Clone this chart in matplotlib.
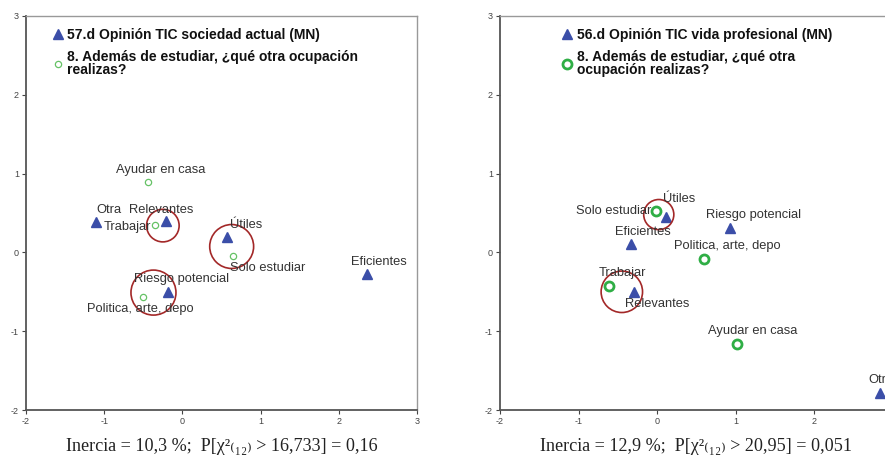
import matplotlib
matplotlib.use("Agg")
import matplotlib.pyplot as plt
from matplotlib.lines import Line2D

plt.rcParams['font.family'] = ['Liberation Sans', 'DejaVu Sans']
plt.rcParams['axes.unicode_minus'] = False

# ---- panel izquierdo: 57.d Opinión TIC sociedad actual
left_tri_names = ['Otra', 'Relevantes', 'Útiles', 'Eficientes', 'Riesgo potencial']
left_tri_x = [-1.10, -0.21, 0.57, 2.36, -0.18]
left_tri_y = [0.39, 0.40, 0.19, -0.28, -0.50]
left_circ_names = ['Ayudar en casa', 'Trabajar', 'Solo estudiar', 'Politica, arte, depo']
left_circ_x = [-0.44, -0.35, 0.65, -0.51]
left_circ_y = [0.89, 0.35, -0.05, -0.57]
left_mark_x = [-0.25, 0.63, -0.37]
left_mark_y = [0.34, 0.075, -0.51]
left_legend = ['57.d Opinión TIC sociedad actual (MN)',
               '8. Además de estudiar, ¿qué otra ocupación\nrealizas?']
left_caption = 'Inercia = 10,3 %;  P[χ²₍₁₂₎ > 16,733] = 0,16'

# ---- panel derecho: 56.d Opinión TIC vida profesional
right_tri_names = ['Útiles', 'Riesgo potencial', 'Eficientes', 'Relevantes', 'Otra']
right_tri_x = [0.11, 0.93, -0.33, -0.30, 2.84]
right_tri_y = [0.45, 0.31, 0.11, -0.50, -1.78]
right_circ_names = ['Solo estudiar', 'Politica, arte, depo', 'Trabajar', 'Ayudar en casa']
right_circ_x = [-0.02, 0.60, -0.61, 1.02]
right_circ_y = [0.53, -0.08, -0.43, -1.16]
right_mark_x = [0.02, -0.45]
right_mark_y = [0.48, -0.50]
right_legend = ['56.d Opinión TIC vida profesional (MN)',
                '8. Además de estudiar, ¿qué otra\nocupación realizas?']
right_caption = 'Inercia = 12,9 %;  P[χ²₍₁₂₎ > 20,95] = 0,051'

ticks = [-2, -1, 0, 1, 2, 3]

BLUE = '#3b4ea8'
GREEN_L = '#66c266'
GREEN_R = '#2fae45'
RED = '#a32828'
TXT = '#333333'

# desplazamientos de etiquetas (px) respecto al punto
left_tri_off = [(13, 12), (-5, 11), (19, 12), (12, 12), (13, 13)]
left_circ_off = [(13, 12), (-28, -2), (34, -12), (-2, -12)]
left_mark_s = [550, 1000, 1050]
right_tri_off = [(13, 18), (23, 13), (12, 12), (24, -12), (1, 13)]
right_circ_off = [(-42, 0), (23, 13), (13, 13), (15, 13)]
right_mark_s = [470, 890]

fig = plt.figure(figsize=(8.85, 4.55), dpi=100)
W, H = 885, 455
ax1 = fig.add_axes([26 / W, 45 / H, 391 / W, 394 / H])
ax2 = fig.add_axes([500 / W, 45 / H, 393 / W, 394 / H])


def panel(ax, tri_names, tx, ty, circ_names, cx, cy, mx, my, ms,
          tri_off, circ_off, legend_labels, legend_x, caption, green, circ_ms, circ_mew):
    ax.scatter(mx, my, s=ms, facecolors='none', edgecolors=RED, linewidths=1.2, zorder=4)
    ax.plot(tx, ty, linestyle='none', marker='^', ms=7.5, color=BLUE, mec=BLUE, zorder=3)
    ax.plot(cx, cy, linestyle='none', marker='o', ms=circ_ms, mfc='none', mec=green,
            mew=circ_mew, zorder=3)
    for name, x, y, (dx, dy) in zip(tri_names, tx, ty, tri_off):
        ax.annotate(name, (x, y), xytext=(dx * 0.72, dy * 0.72), textcoords='offset points',
                    ha='center', va='center', fontsize=9.3, color=TXT, zorder=5)
    for name, x, y, (dx, dy) in zip(circ_names, cx, cy, circ_off):
        ax.annotate(name, (x, y), xytext=(dx * 0.72, dy * 0.72), textcoords='offset points',
                    ha='center', va='center', fontsize=9.3, color=TXT, zorder=5)

    ax.set_xlim(-2, 3)
    ax.set_ylim(-2, 3)
    ax.set_xticks(ticks)
    ax.set_yticks(ticks)
    ax.tick_params(direction='out', length=3, width=0.8, labelsize=6.5,
                   colors='#444444', pad=2)
    for side in ['left', 'bottom']:
        ax.spines[side].set_color('#555555')
        ax.spines[side].set_linewidth(1.3)
    for side in ['top', 'right']:
        ax.spines[side].set_color('#999999')
        ax.spines[side].set_linewidth(1.0)

    handles = [Line2D([], [], linestyle='none', marker='^', ms=7, color=BLUE),
               Line2D([], [], linestyle='none', marker='o', ms=circ_ms, mfc='none',
                      mec=green, mew=circ_mew)]
    leg = ax.legend(handles, legend_labels, loc='upper left',
                    bbox_to_anchor=(legend_x, 0.983),
                    frameon=False, handlelength=0.7, handletextpad=0.35, labelspacing=0.55,
                    borderaxespad=0, prop={'weight': 'bold', 'size': 10})
    for t in leg.get_texts():
        t.set_linespacing(0.95)
        t.set_color('#111111')

    ax.text(0.5, -0.104, caption, transform=ax.transAxes, ha='center', va='baseline',
            fontsize=13.1, family=['Liberation Serif', 'DejaVu Serif'], color='#222222')


panel(ax1, left_tri_names, left_tri_x, left_tri_y, left_circ_names, left_circ_x,
      left_circ_y, left_mark_x, left_mark_y, left_mark_s, left_tri_off, left_circ_off,
      left_legend, 0.054, left_caption, GREEN_L, 4.5, 0.9)
panel(ax2, right_tri_names, right_tri_x, right_tri_y, right_circ_names, right_circ_x,
      right_circ_y, right_mark_x, right_mark_y, right_mark_s, right_tri_off, right_circ_off,
      right_legend, 0.145, right_caption, GREEN_R, 6.5, 2.0)

fig.savefig('out.png', dpi=100)
